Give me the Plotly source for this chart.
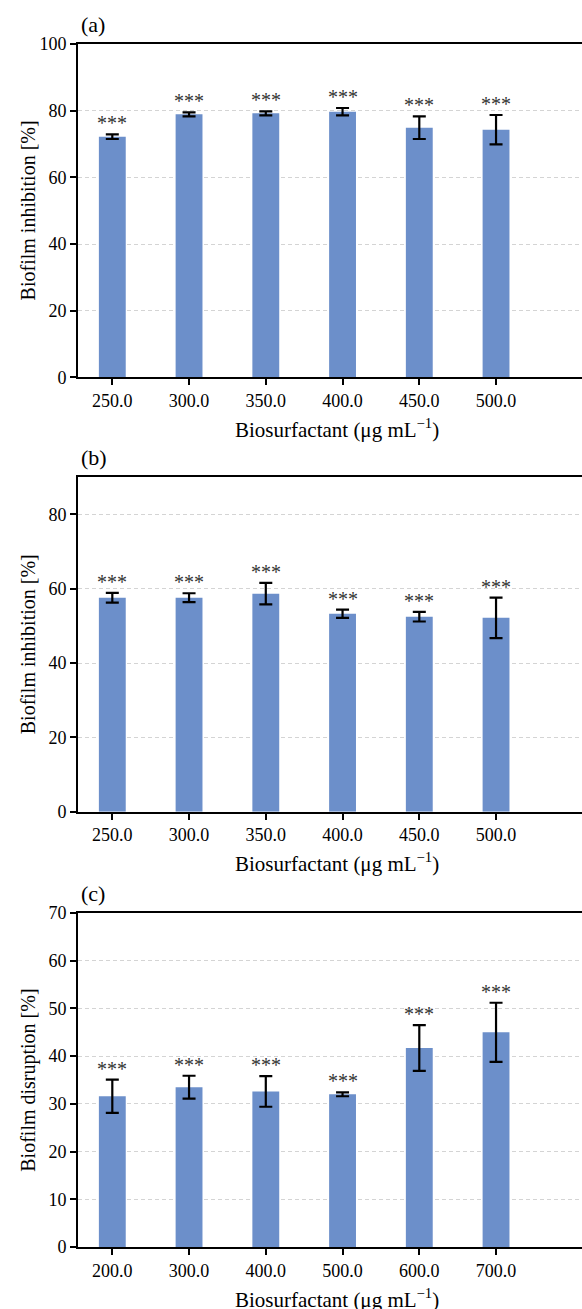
import plotly.graph_objects as go

# ---------------- data ----------------
conc_ab = ["250.0", "300.0", "350.0", "400.0", "450.0", "500.0"]
conc_c = ["200.0", "300.0", "400.0", "500.0", "600.0", "700.0"]

inhib_a = [72.2, 78.9, 79.2, 79.7, 74.9, 74.3]
inhib_a_err = [0.7, 0.6, 0.6, 1.1, 3.4, 4.4]

inhib_b = [57.6, 57.6, 58.7, 53.3, 52.5, 52.2]
inhib_b_err = [1.3, 1.2, 2.9, 1.1, 1.3, 5.45]

disrupt_c = [31.6, 33.5, 32.6, 32.0, 41.7, 45.0]
disrupt_c_err = [3.5, 2.4, 3.2, 0.4, 4.8, 6.2]

signif = ["***"] * 6

panel_labels = ["(a)", "(b)", "(c)"]
y_titles = ["Biofilm inhibition [%]", "Biofilm inhibition [%]", "Biofilm disruption [%]"]
x_title = "Biosurfactant (μg mL<sup>−1</sup>)"

# ---------------- style ----------------
FONT = "Liberation Serif"
BAR = "#6c8fca"
panels = [
    dict(x=conc_ab, y=inhib_a, e=inhib_a_err, rng=[0, 100], dt=20, dom=[0.7229, 1.0]),
    dict(x=conc_ab, y=inhib_b, e=inhib_b_err, rng=[0, 90], dt=20, dom=[0.3618, 0.6398]),
    dict(x=conc_c, y=disrupt_c, e=disrupt_c_err, rng=[0, 70], dt=10, dom=[0.0, 0.2776]),
]

fig = go.Figure()
annotations = []
layout = {}
for i, p in enumerate(panels):
    n = "" if i == 0 else str(i + 1)
    xa, ya = "x" + n, "y" + n
    fig.add_trace(go.Bar(
        x=p["x"], y=p["y"], xaxis=xa, yaxis=ya, width=0.35,
        marker=dict(color=BAR, line=dict(width=0)),
        error_y=dict(type="data", array=p["e"], visible=True,
                     color="black", thickness=2.2, width=6.5),
        showlegend=False, hoverinfo="skip",
    ))
    layout["xaxis" + n] = dict(
        domain=[0, 1], anchor=ya, type="category", range=[-0.447, 6.12],
        showline=True, linecolor="black", linewidth=2, mirror=True,
        ticks="outside", ticklen=6, tickwidth=1.8, tickcolor="black",
        showgrid=False, zeroline=False,
        tickfont=dict(family=FONT, size=18, color="black"),
    )
    layout["yaxis" + n] = dict(
        domain=p["dom"], anchor=xa, range=p["rng"], dtick=p["dt"], tick0=0,
        showline=True, linecolor="black", linewidth=2, mirror=False,
        ticks="outside", ticklen=6, tickwidth=1.8, tickcolor="black",
        showgrid=True, gridcolor="#d4d4d4", gridwidth=1, griddash="4px,3px",
        zeroline=False,
        tickfont=dict(family=FONT, size=18, color="black"),
    )
    for k, (yi, ei, s) in enumerate(zip(p["y"], p["e"], signif)):
        annotations.append(dict(
            x=k, y=yi + ei, xref=xa, yref=ya, text=s, showarrow=False,
            yanchor="bottom", xanchor="center", yshift=-2,
            font=dict(family=FONT, size=20, color="#333333"),
        ))
    annotations.append(dict(
        x=0, y=p["dom"][1], xref="paper", yref="paper", text=panel_labels[i],
        showarrow=False, xanchor="left", yanchor="middle", xshift=1, yshift=20,
        font=dict(family=FONT, size=22, color="black"),
    ))
    annotations.append(dict(
        x=0.514, y=p["dom"][0], xref="paper", yref="paper", text=x_title,
        showarrow=False, xanchor="center", yanchor="middle", yshift=-51,
        font=dict(family=FONT, size=21, color="black"),
    ))
    annotations.append(dict(
        x=-0.0998, y=(p["dom"][0] + p["dom"][1]) / 2, xref="paper", yref="paper",
        text=y_titles[i], textangle=-90, showarrow=False,
        xanchor="center", yanchor="middle",
        font=dict(family=FONT, size=20, color="black"),
    ))

fig.update_layout(
    width=582, height=1309,
    margin=dict(l=78, r=0, t=44, b=62),
    paper_bgcolor="white", plot_bgcolor="white",
    font=dict(family=FONT, size=18, color="black"),
    annotations=annotations,
    bargap=0.65,
    **layout,
)

fig.write_html("out.html")
